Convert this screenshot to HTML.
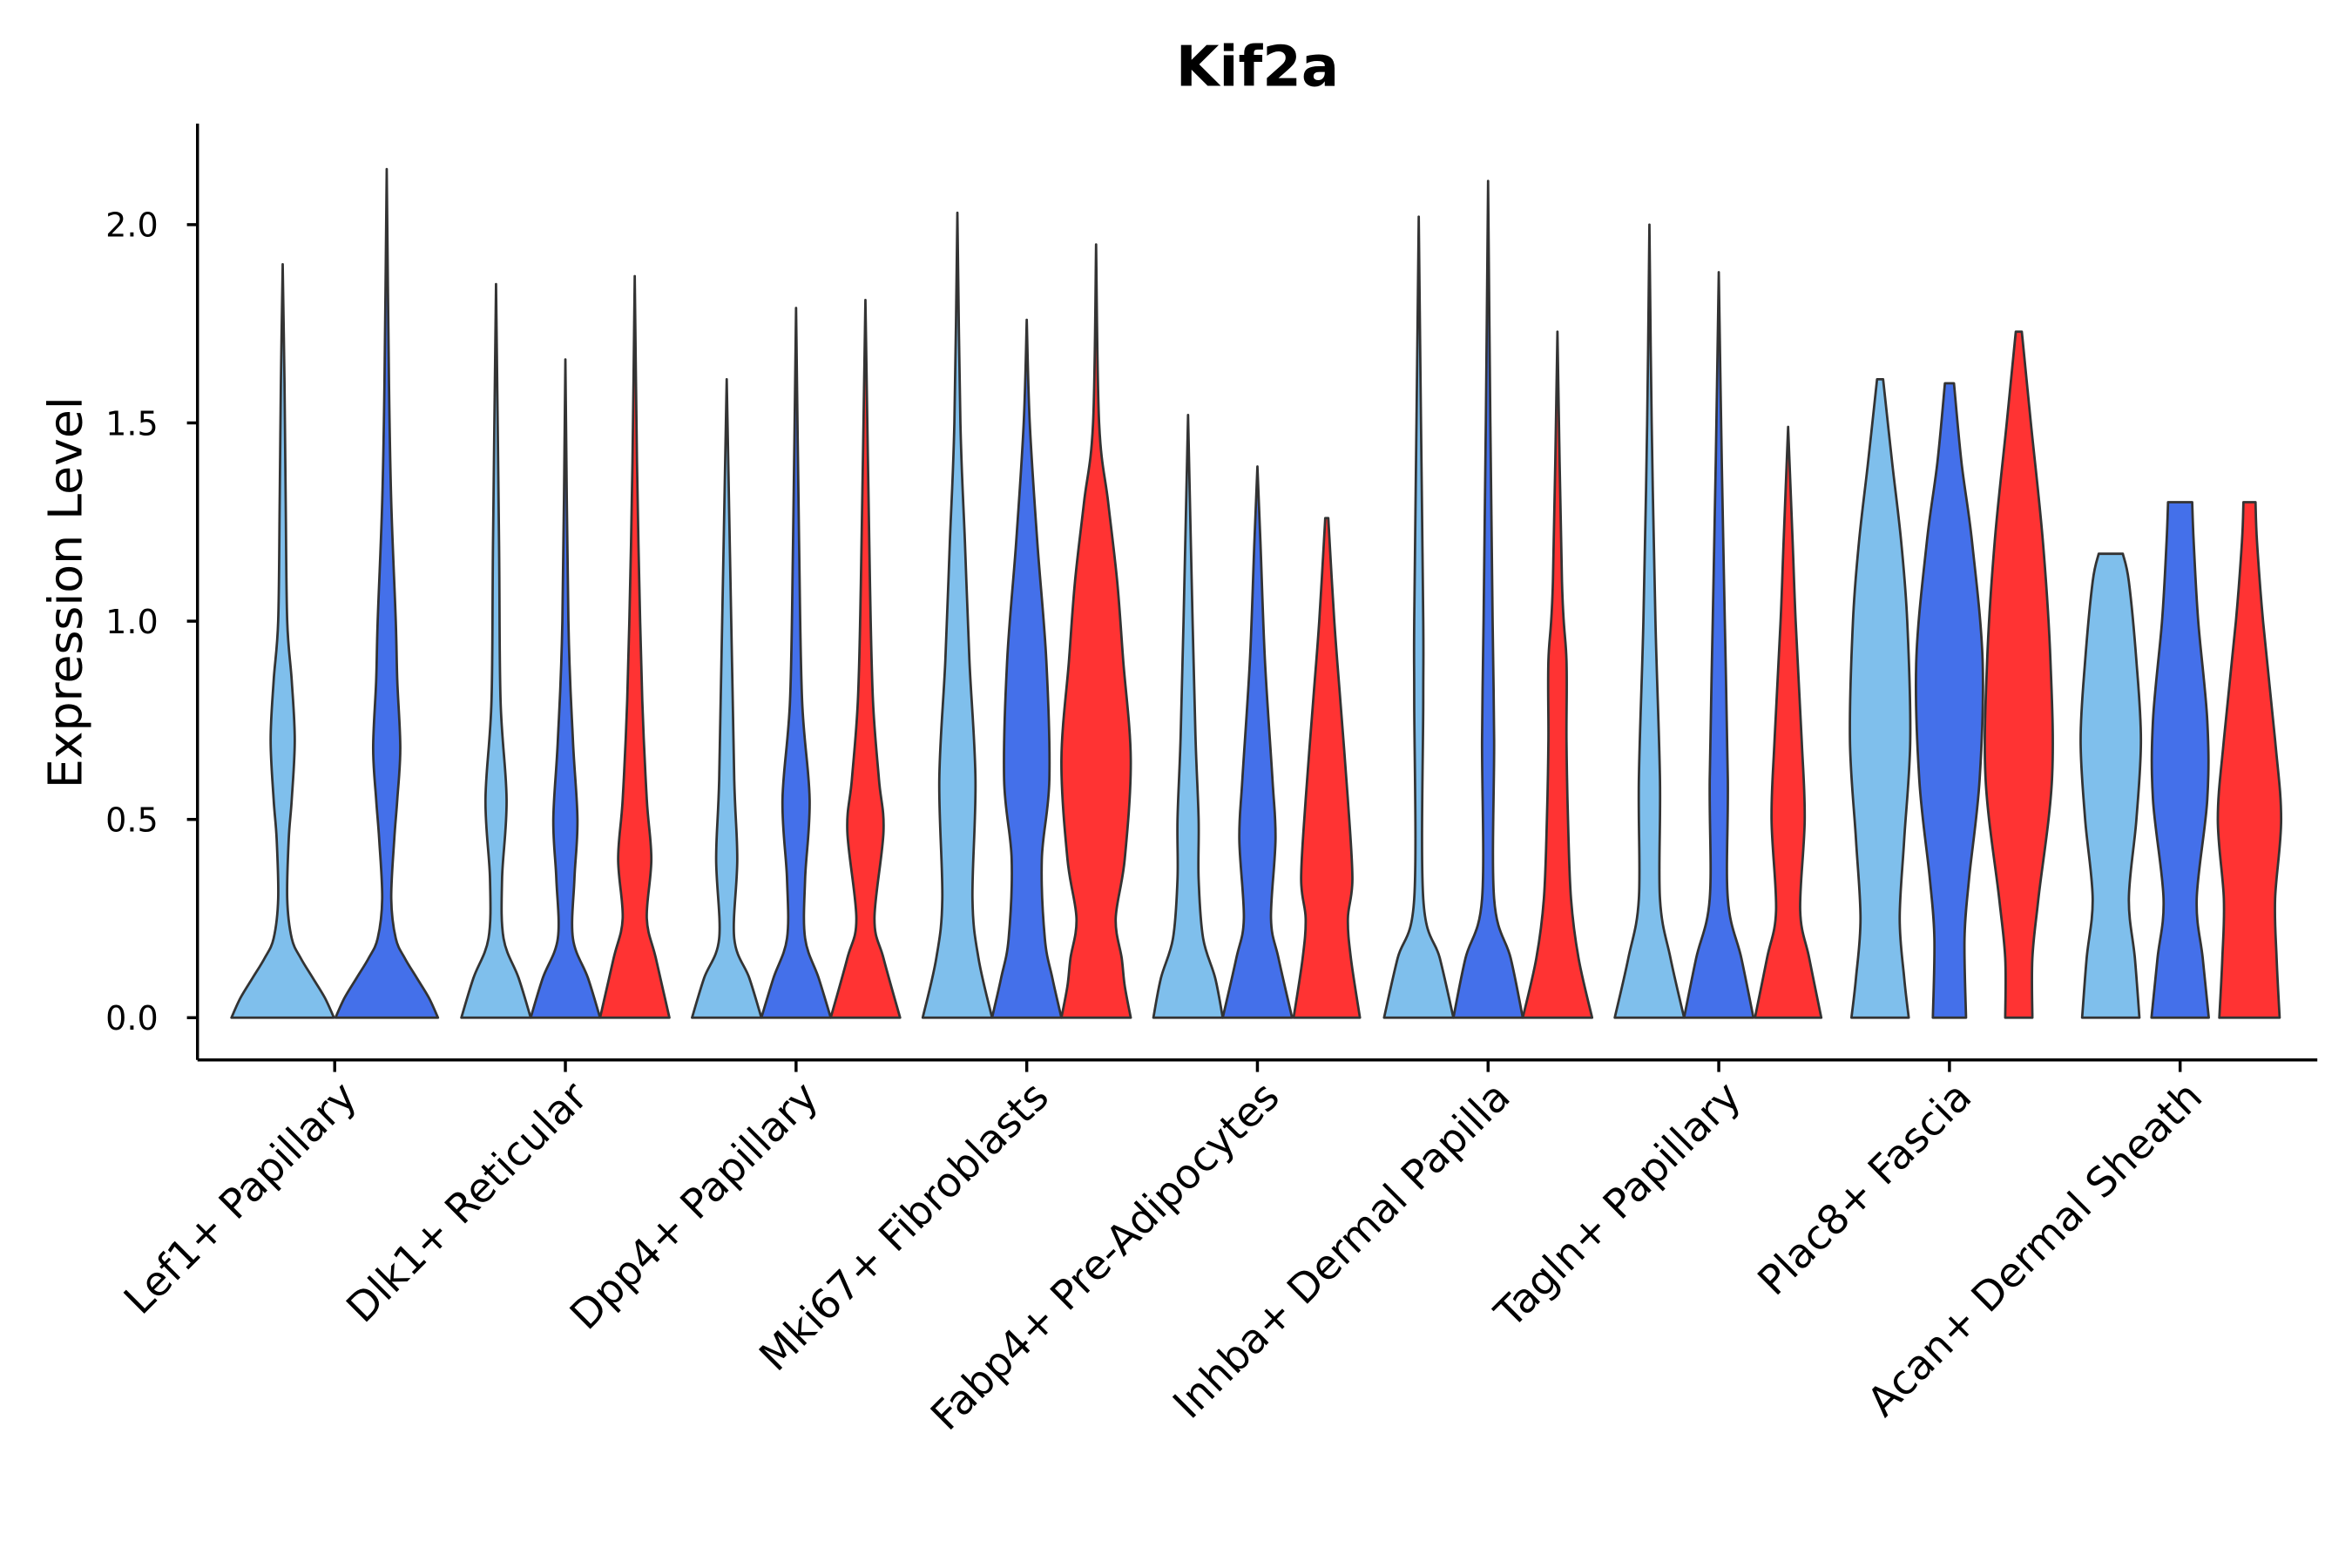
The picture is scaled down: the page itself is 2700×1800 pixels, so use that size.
<!DOCTYPE html>
<html><head><meta charset="utf-8"><style>html,body{margin:0;padding:0;background:#fff}svg{display:block}</style></head>
<body>
<svg id="chart" width="2700" height="1800" viewBox="0 0 1560 1040" xmlns="http://www.w3.org/2000/svg" font-family="'DejaVu Sans','Liberation Sans',sans-serif">
<rect width="1560" height="1040" fill="#fff"/>
<text x="834" y="57" text-anchor="middle" font-size="37" font-weight="bold">Kif2a</text>
<text transform="translate(54,393) rotate(-90)" text-anchor="middle" font-size="31">Expression Level</text>
<g id="axes"></g>
<g id="violins"></g>
</svg>
<script>
const categories=["Lef1+ Papillary","Dlk1+ Reticular","Dpp4+ Papillary","Mki67+ Fibroblasts","Fabp4+ Pre-Adipocytes","Inhba+ Dermal Papilla","Tagln+ Papillary","Plac8+ Fascia","Acan+ Dermal Sheath"];
const yTicks=[0,0.5,1,1.5,2];
const yTickLabels=["0.0","0.5","1.0","1.5","2.0"];
const seriesColors={light:"#7FBFEC",blue:"#4470EA",red:"#FF3333"};
// each violin: [categoryIndex, series, [[value, halfwidth], ...]]
const violins=[
[0,"light",[[0,34],[0.05,28],[0.1,20],[0.15,12],[0.2,6],[0.3,3],[0.45,4],[0.55,6],[0.7,8],[0.85,6],[1.0,3],[1.3,2],[1.6,1.2],[1.9,0]]],
[0,"blue",[[0,34],[0.05,28],[0.1,20],[0.15,12],[0.2,6],[0.3,3],[0.45,5],[0.55,7],[0.68,9],[0.85,7],[1.0,6],[1.3,3],[1.6,1.5],[2.14,0]]],
[1,"light",[[0,23],[0.1,15],[0.2,5],[0.35,4],[0.55,7],[0.8,3],[1.2,2],[1.85,0]]],
[1,"blue",[[0,23],[0.1,15],[0.2,5],[0.35,6],[0.5,8],[0.7,5],[1.0,2],[1.66,0]]],
[1,"red",[[0,23],[0.15,14],[0.25,8],[0.4,11],[0.55,8],[0.8,5],[1.1,3],[1.4,1.5],[1.87,0]]],
[2,"light",[[0,23],[0.1,15],[0.2,5],[0.4,7],[0.6,5],[1.0,3],[1.61,0]]],
[2,"blue",[[0,23],[0.1,15],[0.2,6],[0.35,6],[0.55,9],[0.8,4],[1.2,2],[1.79,0]]],
[2,"red",[[0,23],[0.15,12],[0.25,6],[0.47,12],[0.6,9],[0.8,5],[1.1,3],[1.81,0]]],
[3,"light",[[0,23],[0.15,14],[0.3,10],[0.6,12],[0.9,8],[1.2,5],[1.5,2],[2.03,0]]],
[3,"blue",[[0,23],[0.1,17],[0.2,12],[0.4,10],[0.6,15],[0.9,13],[1.2,7],[1.5,2],[1.76,0]]],
[3,"red",[[0,23],[0.08,19],[0.15,17],[0.25,13],[0.4,19],[0.65,23],[0.9,18],[1.1,14],[1.3,8],[1.5,2],[1.95,0]]],
[4,"light",[[0,23],[0.1,18],[0.2,10],[0.35,7],[0.5,7],[0.7,5],[1.0,3],[1.52,0]]],
[4,"blue",[[0,23],[0.15,14],[0.25,9],[0.45,12],[0.6,10],[0.9,5],[1.2,2],[1.39,0]]],
[4,"red",[[0,22],[0.15,16],[0.25,14],[0.35,17],[0.55,14],[0.8,9],[1.0,5],[1.26,1]]],
[5,"light",[[0,23],[0.15,14],[0.3,3],[0.8,3],[1.0,3],[1.5,1.5],[2.02,0]]],
[5,"blue",[[0,23],[0.15,15],[0.3,4],[0.7,4],[1.0,3],[1.5,1.5],[2.11,0]]],
[5,"red",[[0,23],[0.15,14],[0.3,9],[0.5,7],[0.7,6],[0.9,6],[1.1,3],[1.73,0]]],
[6,"light",[[0,23],[0.15,14],[0.3,7],[0.6,7],[1.0,4],[1.5,1.5],[2.0,0]]],
[6,"blue",[[0,23],[0.15,15],[0.3,6],[0.6,6],[1.0,4],[1.4,2],[1.88,0]]],
[6,"red",[[0,22],[0.15,14],[0.27,8],[0.5,11],[0.7,9],[1.0,5],[1.2,3],[1.49,0]]],
[7,"light",[[0,19],[0.1,16],[0.25,13],[0.45,16],[0.7,20],[1.0,18],[1.2,14],[1.4,8],[1.61,2]]],
[7,"blue",[[0,11],[0.2,10],[0.35,13],[0.6,20],[0.9,22],[1.2,15],[1.4,8],[1.6,3]]],
[7,"red",[[0,9],[0.15,9],[0.3,13],[0.6,22],[0.9,21],[1.2,16],[1.5,8],[1.73,2]]],
[8,"light",[[0,19],[0.15,16],[0.3,12],[0.5,17],[0.7,20],[0.9,17],[1.1,12],[1.17,8]]],
[8,"blue",[[0,19],[0.15,15],[0.3,11],[0.55,18],[0.75,18],[1.0,12],[1.2,9],[1.3,8]]],
[8,"red",[[0,20],[0.15,18],[0.3,17],[0.5,21],[0.7,17],[1.0,9],[1.2,5],[1.3,4]]]
];
const NS="http://www.w3.org/2000/svg";
const X0=131,X1=1537,YT=82,YB=703;
function yScale(v){return 675-v*263;}
function xCenter(i){return 222+i*153;}
function mk(tag,attrs,parent){const e=document.createElementNS(NS,tag);for(const k in attrs)e.setAttribute(k,attrs[k]);parent.appendChild(e);return e;}
const axes=document.getElementById('axes');
let e=mk('line',{x1:X0,y1:YT,x2:X0,y2:YB,stroke:'#000','stroke-width':2},axes);


e=mk('line',{x1:X0,y1:YB,x2:X1,y2:YB,stroke:'#000','stroke-width':2},axes);


yTicks.forEach((t,i)=>{const y=yScale(t);
 const l=mk('line',{x1:X0-7,y1:y,x2:X0,y2:y,stroke:'#000','stroke-width':2},axes);
 
 
 const tx=mk('text',{x:X0-26,y:y+8,'text-anchor':'end','font-size':22},axes);tx.textContent=yTickLabels[i];
 
 
});
categories.forEach((c,i)=>{const x=xCenter(i);
 const l=mk('line',{x1:x,y1:YB,x2:x,y2:YB+8,stroke:'#000','stroke-width':2},axes);
 
 
 const tx=mk('text',{transform:`translate(${x+16},${YB+26}) rotate(-45)`,'text-anchor':'end','font-size':27},axes);tx.textContent=c;
 
 
});
function smooth(P){let d='M'+P[0][0]+','+P[0][1];
 for(let i=0;i<P.length-1;i++){const p0=P[Math.max(i-1,0)],p1=P[i],p2=P[i+1],p3=P[Math.min(i+2,P.length-1)];
  const c1=[p1[0]+(p2[0]-p0[0])/6,p1[1]+(p2[1]-p0[1])/6],c2=[p2[0]-(p3[0]-p1[0])/6,p2[1]-(p3[1]-p1[1])/6];
  d+=` C${c1[0]},${c1[1]} ${c2[0]},${c2[1]} ${p2[0]},${p2[1]}`;}
 return d;}
const vg=document.getElementById('violins');
violins.forEach(v=>{const cat=v[0],ser=v[1],pts=v[2];
 const siblings=violins.filter(w=>w[0]===cat);const n=siblings.length;const k=siblings.indexOf(v);
 const step=138/n;const cx=xCenter(cat)-69+step*(k+0.5);
 const right=pts.map(p=>[cx+p[1],yScale(p[0])]);
 const left=pts.slice().reverse().map(p=>[cx-p[1],yScale(p[0])]);
 let d=smooth(right);
 d+=' L'+left[0][0]+','+left[0][1];
 d+=smooth(left).replace(/^M[^C]*/,' ');
 d+=' Z';
 const p=mk('path',{d:d,fill:seriesColors[ser],stroke:'#333','stroke-width':1.6,'stroke-linejoin':'round'},vg);
 
 
});
</script>
</body></html>
